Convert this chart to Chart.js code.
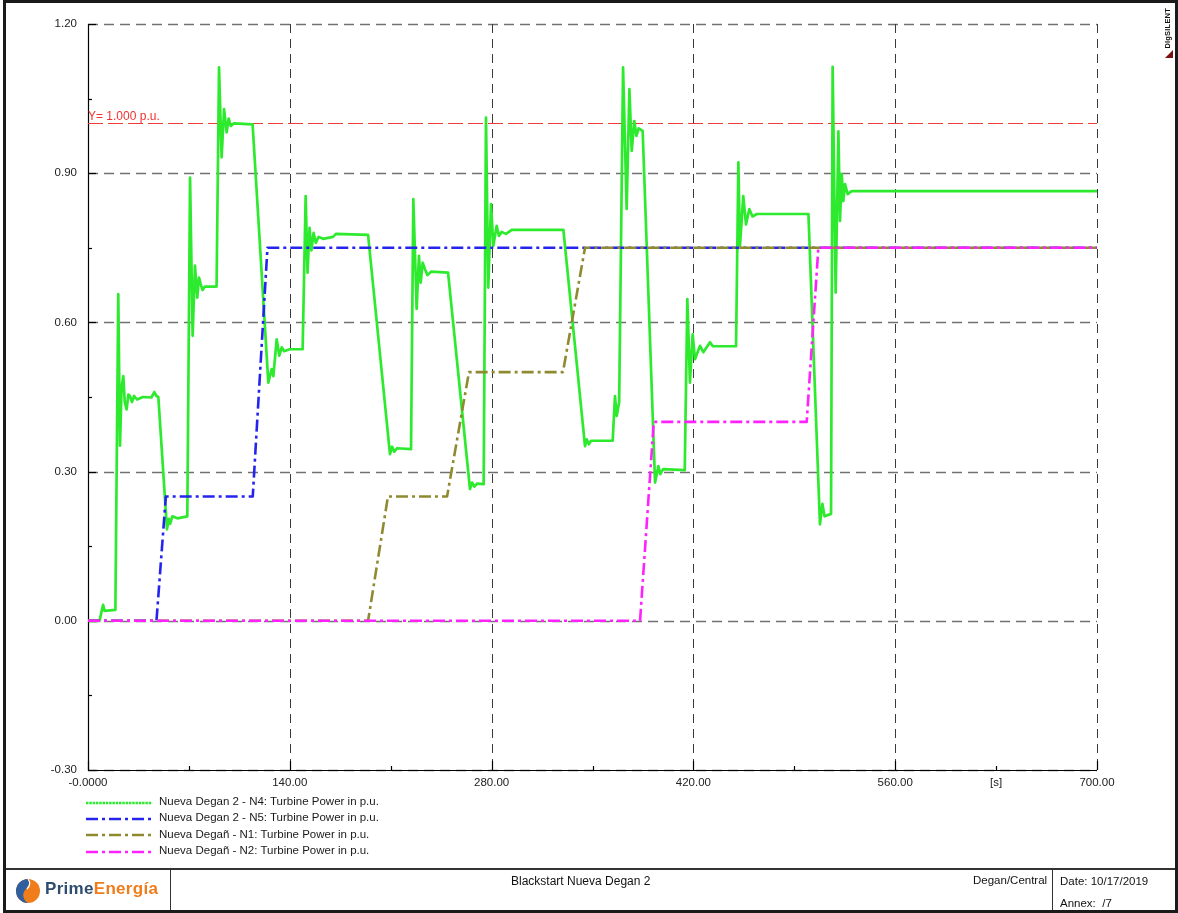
<!DOCTYPE html>
<html>
<head>
<meta charset="utf-8">
<title>Blackstart Nueva Degan 2</title>
<script src="https://cdn.jsdelivr.net/npm/chart.js@4.4.1/dist/chart.umd.min.js"></script>
<style>
  html, body { margin: 0; padding: 0; background: #fff; }
  #page { position: relative; width: 1178px; height: 913px; overflow: hidden;
          font-family: "Liberation Sans", Arial, sans-serif; color: #222; }
  #plot { position: absolute; left: 0; top: 0; }
  #frame { position: absolute; left: 3px; top: 0; width: 1169px; height: 907px;
           border: 3px solid #1b1b1b; pointer-events: none; }
  .rule { position: absolute; background: #333; }
  .legend { position: absolute; left: 86px; top: 794.5px; }
  .legend .row { position: relative; height: 16.4px; }
  .legend svg { position: absolute; left: 0; top: 3px; }
  .legend span { position: absolute; left: 73px; top: 0.5px; font-size: 11.5px; white-space: nowrap; color: #1a1a1a; }
  .foot { position: absolute; font-size: 11.5px; white-space: nowrap; color: #111; }
  .brand { position: absolute; left: 45px; top: 879px; font-size: 17px; font-weight: bold; letter-spacing: 0.3px; }
  .brand .a { color: #2f4d6e; }
  .brand .b { color: #ef7d1c; }
  .vendor { position: absolute; left: 1163px; top: 8px; font-size: 7.5px; font-weight: bold;
            writing-mode: vertical-rl; transform: rotate(180deg); color: #111; letter-spacing: 0.2px; }
</style>
</head>
<body>
<div id="page">
  <canvas id="plot" width="1178" height="913"></canvas>

  <div class="legend" id="legend"></div>

  <div class="vendor">DIgSILENT</div>
  <svg style="position:absolute;left:1165px;top:50px" width="10" height="9">
    <polygon points="8,0 8,8 0,8" fill="#7a1010"/>
  </svg>

  <!-- title block -->
  <div class="rule" style="left:3px;top:868px;width:1175px;height:2px;"></div>
  <div class="rule" style="left:170px;top:869px;width:1px;height:42px;"></div>
  <div class="rule" style="left:1052px;top:869px;width:1px;height:42px;"></div>

  <svg style="position:absolute;left:14px;top:877px" width="28" height="28" viewBox="0 0 28 28">
    <circle cx="14" cy="14" r="12" fill="#ef7d1c"/>
    <path d="M14 2 A12 12 0 0 0 14 26 C8 22 8 16 12 12 C15 9 16 5 14 2 Z" fill="#2f5f9e"/>
    <path d="M14 2 C17 6 15 10 13 12" stroke="#fff" stroke-width="1.2" fill="none"/>
  </svg>
  <div class="brand"><span class="a">Prime</span><span class="b">Energía</span></div>

  <div class="foot" style="left:511px;top:874px;font-size:12px;">Blackstart Nueva Degan 2</div>
  <div class="foot" style="left:973px;top:874px;">Degan/Central</div>
  <div class="foot" style="left:1060px;top:875px;">Date: 10/17/2019</div>
  <div class="foot" style="left:1060px;top:897px;">Annex:&nbsp; /7</div>

  <div id="frame"></div>
</div>

<script>
// ---- series: time [s] and turbine power [p.u.] ----
const n4Time = [0, 8, 9.5, 10.5, 11.5, 19.0, 21.0, 22.2, 23.3, 24.5, 25.5, 26.8, 28.0, 29.1, 30.5, 32, 34, 38, 44, 46, 47.5, 48.8,
  54.8, 56, 57, 58.5, 62, 68.9, 70.8, 72.6, 74.2, 75.8, 77.0, 78.2, 79.5, 81, 89.2,
  90.9, 92.7, 94.4, 96.2, 97.6, 99, 101, 114.2, 125.1, 127.4, 128.6, 130.9, 132.7, 134.4, 136, 140, 148.9,
  151, 152.3, 153.7, 155, 156.5, 158, 160, 163, 170, 172, 194.3, 209.5, 211, 212.5, 214.5, 224.1,
  225.7, 228, 229.6, 230.8, 232.2, 233.8, 235.5, 238, 249.8, 265, 266.5, 268, 270, 274.5,
  276.1, 277.7, 279.6, 281.2, 283.5, 285.1, 287, 290, 294, 329.8, 344.8, 346, 347.5, 349, 364,
  365.6, 366.8, 368.5, 371.2, 373.7, 375.6, 377.2, 379, 380.5, 382, 384.8, 393.4, 395.7, 397, 399, 414,
  415.8, 417.6, 419.5, 421.1, 424.6, 426.9, 431.5, 433.5, 449.6, 451.2, 452.3, 454.6, 456.5, 458.8, 461, 464, 499.8,
  507.8, 509.5, 511, 515.5, 516.6, 518.7, 520.6, 521.7, 522.9, 524, 525.2, 527, 529.8, 700];
const n4Power = [0, 0, 0.02, 0.032, 0.02, 0.022, 0.657, 0.352, 0.47, 0.492, 0.44, 0.425, 0.455, 0.452, 0.44, 0.452, 0.445, 0.45, 0.449, 0.46, 0.452, 0.45,
  0.184, 0.205, 0.195, 0.21, 0.206, 0.21, 0.891, 0.573, 0.714, 0.650, 0.69, 0.677, 0.665, 0.672, 0.672,
  1.113, 0.932, 1.029, 0.982, 1.01, 0.995, 1.0, 0.998, 0.479, 0.506, 0.492, 0.566, 0.533, 0.55, 0.542, 0.546, 0.546,
  0.854, 0.70, 0.79, 0.745, 0.78, 0.76, 0.772, 0.768, 0.772, 0.778, 0.776, 0.335, 0.35, 0.34, 0.347, 0.345,
  0.848, 0.627, 0.734, 0.680, 0.72, 0.707, 0.695, 0.702, 0.70, 0.265, 0.278, 0.27, 0.276, 0.275,
  1.012, 0.670, 0.838, 0.754, 0.794, 0.774, 0.782, 0.778, 0.786, 0.786, 0.351, 0.365, 0.355, 0.362, 0.362,
  0.452, 0.412, 0.44, 1.113, 0.828, 1.069, 0.945, 1.005, 0.975, 0.99, 0.985, 0.278, 0.311, 0.295, 0.305, 0.303,
  0.647, 0.479, 0.576, 0.526, 0.553, 0.54, 0.56, 0.552, 0.552, 0.922, 0.754, 0.854, 0.797, 0.828, 0.813, 0.818, 0.818,
  0.194, 0.235, 0.21, 0.215, 1.114, 0.66, 0.984, 0.804, 0.898, 0.844, 0.878, 0.858, 0.864, 0.864];

const n5Time  = [0, 47.5, 54.0, 114.3, 124.5, 700];
const n5Power = [0, 0, 0.25, 0.25, 0.75, 0.75];

const n1Time  = [0, 194.3, 208.1, 249.1, 264.3, 329.5, 344.8, 700];
const n1Power = [0, 0, 0.25, 0.25, 0.50, 0.50, 0.75, 0.75];

const n2Time  = [0, 383.0, 392.5, 498.6, 506.7, 700];
const n2Power = [0, 0, 0.40, 0.40, 0.75, 0.75];

const refLevel = 1.0;

// ---- axes ----
const xTickValues = [0, 70, 140, 210, 280, 350, 420, 490, 560, 630, 700];
const xMajorValues = [0, 140, 280, 420, 560, 700];
const xLabelAt   = [0, 140, 280, 420, 560, 630, 700];
const xLabelText = ['-0.0000', '140.00', '280.00', '420.00', '560.00', '[s]', '700.00'];

const yTickValues = [-0.3, -0.15, 0, 0.15, 0.3, 0.45, 0.6, 0.75, 0.9, 1.05, 1.2];
const yMajorValues = [-0.3, 0, 0.3, 0.6, 0.9, 1.2];
const yLabelText = ['-0.30', '0.00', '0.30', '0.60', '0.90', '1.20'];

const seriesNames = [
  'Nueva Degan 2 - N4: Turbine Power in p.u.',
  'Nueva Degan 2 - N5: Turbine Power in p.u.',
  'Nueva Degañ - N1: Turbine Power in p.u.',
  'Nueva Degañ - N2: Turbine Power in p.u.'
];
const seriesColors = ['#2eea2e', '#2424ee', '#8f8a30', '#ff22ff'];
const seriesDash = [[], [12, 4, 3, 4], [12, 4, 3, 4], [12, 4, 3, 4]];

const zip = (t, v) => t.map((x, i) => ({ x, y: v[i] }));
const near = (a, b) => Math.abs(a - b) < 1e-6;

// grid, axis lines and inward tick marks
const gridPlugin = {
  id: 'dpfGrid',
  beforeDatasetsDraw(chart) {
    const { ctx, chartArea: a, scales: { x, y } } = chart;
    ctx.save();
    // horizontal dashed grid
    ctx.strokeStyle = '#707070';
    ctx.lineWidth = 1.4;
    ctx.setLineDash([10, 6]);
    yMajorValues.forEach(v => {
      const py = Math.round(y.getPixelForValue(v)) + 0.5;
      ctx.beginPath(); ctx.moveTo(a.left, py); ctx.lineTo(a.right, py); ctx.stroke();
    });
    // vertical dashed grid
    ctx.strokeStyle = '#3a3a3a';
    ctx.lineWidth = 1;
    ctx.setLineDash([9, 6]);
    xMajorValues.slice(1).forEach(v => {
      const px = Math.round(x.getPixelForValue(v)) + 0.5;
      ctx.beginPath(); ctx.moveTo(px, a.top); ctx.lineTo(px, a.bottom); ctx.stroke();
    });
    // axis lines
    ctx.setLineDash([]);
    ctx.strokeStyle = '#000';
    ctx.lineWidth = 1.2;
    ctx.beginPath();
    ctx.moveTo(a.left + 0.5, a.top); ctx.lineTo(a.left + 0.5, a.bottom + 0.5);
    ctx.lineTo(a.right, a.bottom + 0.5);
    ctx.stroke();
    // tick marks pointing into the plot
    ctx.lineWidth = 1.2;
    yTickValues.forEach(v => {
      const major = yMajorValues.some(m => near(m, v));
      const py = Math.round(y.getPixelForValue(v)) + 0.5;
      ctx.beginPath(); ctx.moveTo(a.left, py); ctx.lineTo(a.left + (major ? 8 : 4), py); ctx.stroke();
    });
    xTickValues.forEach(v => {
      const major = xMajorValues.some(m => near(m, v));
      const px = Math.round(x.getPixelForValue(v)) + 0.5;
      ctx.beginPath(); ctx.moveTo(px, a.bottom); ctx.lineTo(px, a.bottom - (major ? 9 : 4)); ctx.stroke();
    });
    ctx.restore();
  },
  afterDatasetsDraw(chart) {
    const { ctx, chartArea: a, scales: { y } } = chart;
    ctx.save();
    ctx.fillStyle = '#f03030';
    ctx.font = '12px "Liberation Sans", Arial, sans-serif';
    ctx.textBaseline = 'alphabetic';
    ctx.fillText('Y= 1.000 p.u.', a.left, y.getPixelForValue(refLevel) - 3.5);
    ctx.restore();
  }
};

Chart.defaults.font.family = '"Liberation Sans", Arial, sans-serif';
Chart.defaults.font.size = 11.5;
Chart.defaults.color = '#222';

const datasets = [
  { data: zip(n4Time, n4Power), borderColor: seriesColors[0], borderWidth: 2.7, borderDash: seriesDash[0], order: 4 },
  { data: zip(n5Time, n5Power), borderColor: seriesColors[1], borderWidth: 2.6, borderDash: seriesDash[1], order: 3 },
  { data: zip(n1Time, n1Power), borderColor: seriesColors[2], borderWidth: 2.6, borderDash: seriesDash[2], order: 2 },
  { data: zip(n2Time, n2Power), borderColor: seriesColors[3], borderWidth: 2.6, borderDash: seriesDash[3], order: 1 },
  { data: [{ x: 0, y: refLevel }, { x: 700, y: refLevel }], borderColor: '#f03a3a', borderWidth: 1.1,
    borderDash: [15, 5], order: 5 }
];
datasets.forEach(d => { d.pointRadius = 0; d.fill = false; d.tension = 0; d.borderJoinStyle = 'round'; });

new Chart(document.getElementById('plot'), {
  type: 'line',
  data: { datasets },
  options: {
    responsive: false,
    animation: false,
    devicePixelRatio: 1,
    layout: { padding: { left: 0, right: 81, top: 24, bottom: 113 } },
    plugins: { legend: { display: false }, tooltip: { enabled: false } },
    scales: {
      x: {
        type: 'linear', min: 0, max: 700,
        grid: { display: false, drawTicks: false },
        border: { display: false },
        afterBuildTicks: s => { s.ticks = xTickValues.map(value => ({ value })); },
        afterFit: s => { s.height = 30; s.paddingLeft = 0; s.paddingRight = 0; },
        ticks: {
          autoSkip: false, maxRotation: 0, padding: 6, color: '#222',
          callback: v => { const i = xLabelAt.findIndex(m => near(m, v)); return i < 0 ? '' : xLabelText[i]; }
        }
      },
      y: {
        type: 'linear', min: -0.3, max: 1.2,
        grid: { display: false, drawTicks: false },
        border: { display: false },
        afterBuildTicks: s => { s.ticks = yTickValues.map(value => ({ value })); },
        afterFit: s => { s.width = 88; s.paddingTop = 0; s.paddingBottom = 0; },
        ticks: {
          autoSkip: false, padding: 11, color: '#222',
          callback: v => { const i = yMajorValues.findIndex(m => near(m, v)); return i < 0 ? '' : yLabelText[i]; }
        }
      }
    }
  },
  plugins: [gridPlugin]
});

// legend rows with line samples
const legend = document.getElementById('legend');
seriesNames.forEach((name, i) => {
  const row = document.createElement('div');
  row.className = 'row';
  const dash = i === 0 ? '2.5,0.8' : '12,4,3,4';
  row.innerHTML = '<svg width="66" height="10"><line x1="0" y1="5" x2="66" y2="5" stroke="' + seriesColors[i] +
    '" stroke-width="2.4" stroke-dasharray="' + dash + '"/></svg><span></span>';
  row.querySelector('span').textContent = name;
  legend.appendChild(row);
});
</script>
</body>
</html>
